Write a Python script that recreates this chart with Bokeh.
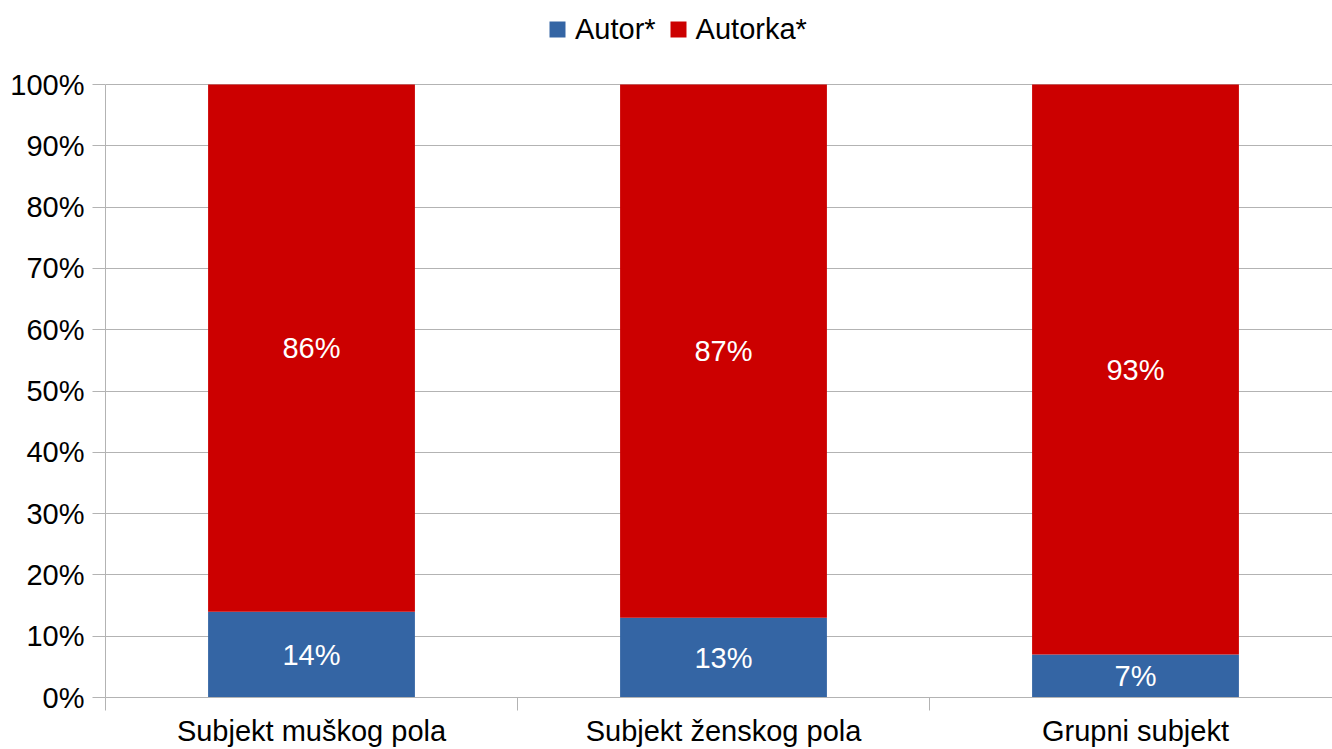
from bokeh.plotting import figure
from bokeh.models import Range1d, FixedTicker, PrintfTickFormatter, Legend, LegendItem, ColumnDataSource
from bokeh.core.properties import value
from bokeh.embed import file_html
from bokeh.resources import INLINE

categories = ["Subjekt muškog pola", "Subjekt ženskog pola", "Grupni subjekt"]
autor = [14, 13, 7]
autorka = [86, 87, 93]
series_names = ["Autor*", "Autorka*"]
colors = ["#3465a4", "#cc0000"]
y_ticks = [0, 10, 20, 30, 40, 50, 60, 70, 80, 90, 100]

FONT = "Liberation Sans"
FS = "29px"
GRAY = "#b3b3b3"

xs = [i + 0.5 for i in range(len(categories))]

W, H = 1332, 749
LEFT, BOTTOM = 105, 52
PLOT_TOP = 84           # pixel row of the 100% line
frame_w = W - LEFT
frame_h = H - BOTTOM
unit = 412              # pixels per category slot
y_end = 100 * frame_h / (frame_h - PLOT_TOP)

p = figure(width=W, height=H, output_backend="svg", toolbar_location=None,
           x_range=Range1d(0, frame_w / unit), y_range=Range1d(0, y_end),
           min_border_left=LEFT, min_border_right=0, min_border_bottom=BOTTOM, min_border_top=0)
p.outline_line_color = None
p.background_fill_color = "white"
p.border_fill_color = "white"

bottoms2 = autor
tops2 = [a + b for a, b in zip(autor, autorka)]
src = ColumnDataSource(dict(x=xs, a=autor, zero=[0] * len(xs), b2=bottoms2, t2=tops2,
                            la=[f"{v}%" for v in autor], lb=[f"{v}%" for v in autorka],
                            ya=[v / 2 for v in autor],
                            yb=[a + b / 2 for a, b in zip(autor, autorka)]))

r1 = p.vbar(x="x", width=0.502, bottom="zero", top="a", source=src, fill_color=colors[0], line_color=None)
r2 = p.vbar(x="x", width=0.502, bottom="b2", top="t2", source=src, fill_color=colors[1], line_color=None)

for ycol, tcol in (("ya", "la"), ("yb", "lb")):
    p.text(x="x", y=ycol, text=tcol, source=src, text_color="white", text_font=value(FONT),
           text_font_size=FS, text_align="center", text_baseline="middle")

# y axis
p.yaxis.ticker = FixedTicker(ticks=y_ticks)
p.yaxis.formatter = PrintfTickFormatter(format="%d%%")
p.yaxis.bounds = (0, 100)
p.yaxis.major_label_text_font = FONT
p.yaxis.major_label_text_font_size = FS
p.yaxis.major_label_text_color = "black"
p.yaxis.axis_line_color = GRAY
p.yaxis.major_tick_line_color = GRAY
p.yaxis.major_tick_out = 13
p.yaxis.major_tick_in = 0
p.yaxis.minor_tick_line_color = None
p.yaxis.major_label_standoff = 8

# x axis
p.xaxis.ticker = FixedTicker(ticks=xs, minor_ticks=[float(i) for i in range(len(categories) + 1)])
p.xaxis.major_label_overrides = {x: c for x, c in zip(xs, categories)}
p.xaxis.major_label_text_font = FONT
p.xaxis.major_label_text_font_size = FS
p.xaxis.major_label_text_color = "black"
p.xaxis.axis_line_color = GRAY
p.xaxis.major_tick_line_color = None
p.xaxis.minor_tick_line_color = GRAY
p.xaxis.minor_tick_out = 13
p.xaxis.minor_tick_in = 0
p.xaxis.major_tick_out = 0
p.xaxis.major_tick_in = 0
p.xaxis.major_label_standoff = 4

p.xgrid.grid_line_color = None
p.ygrid.grid_line_color = GRAY
p.ygrid.ticker = FixedTicker(ticks=y_ticks)

legend = Legend(items=[LegendItem(label=series_names[0], renderers=[r1]),
                       LegendItem(label=series_names[1], renderers=[r2])],
                orientation="horizontal", location=(442, frame_h - 12 - 34),
                label_text_font=FONT, label_text_font_size=FS, label_text_color="black",
                glyph_width=20, glyph_height=20, label_standoff=8, spacing=12,
                padding=0, margin=0, border_line_color=None, background_fill_alpha=0,
                label_height=34)
p.add_layout(legend, "center")

open("out.html", "w").write(file_html(p, INLINE))
